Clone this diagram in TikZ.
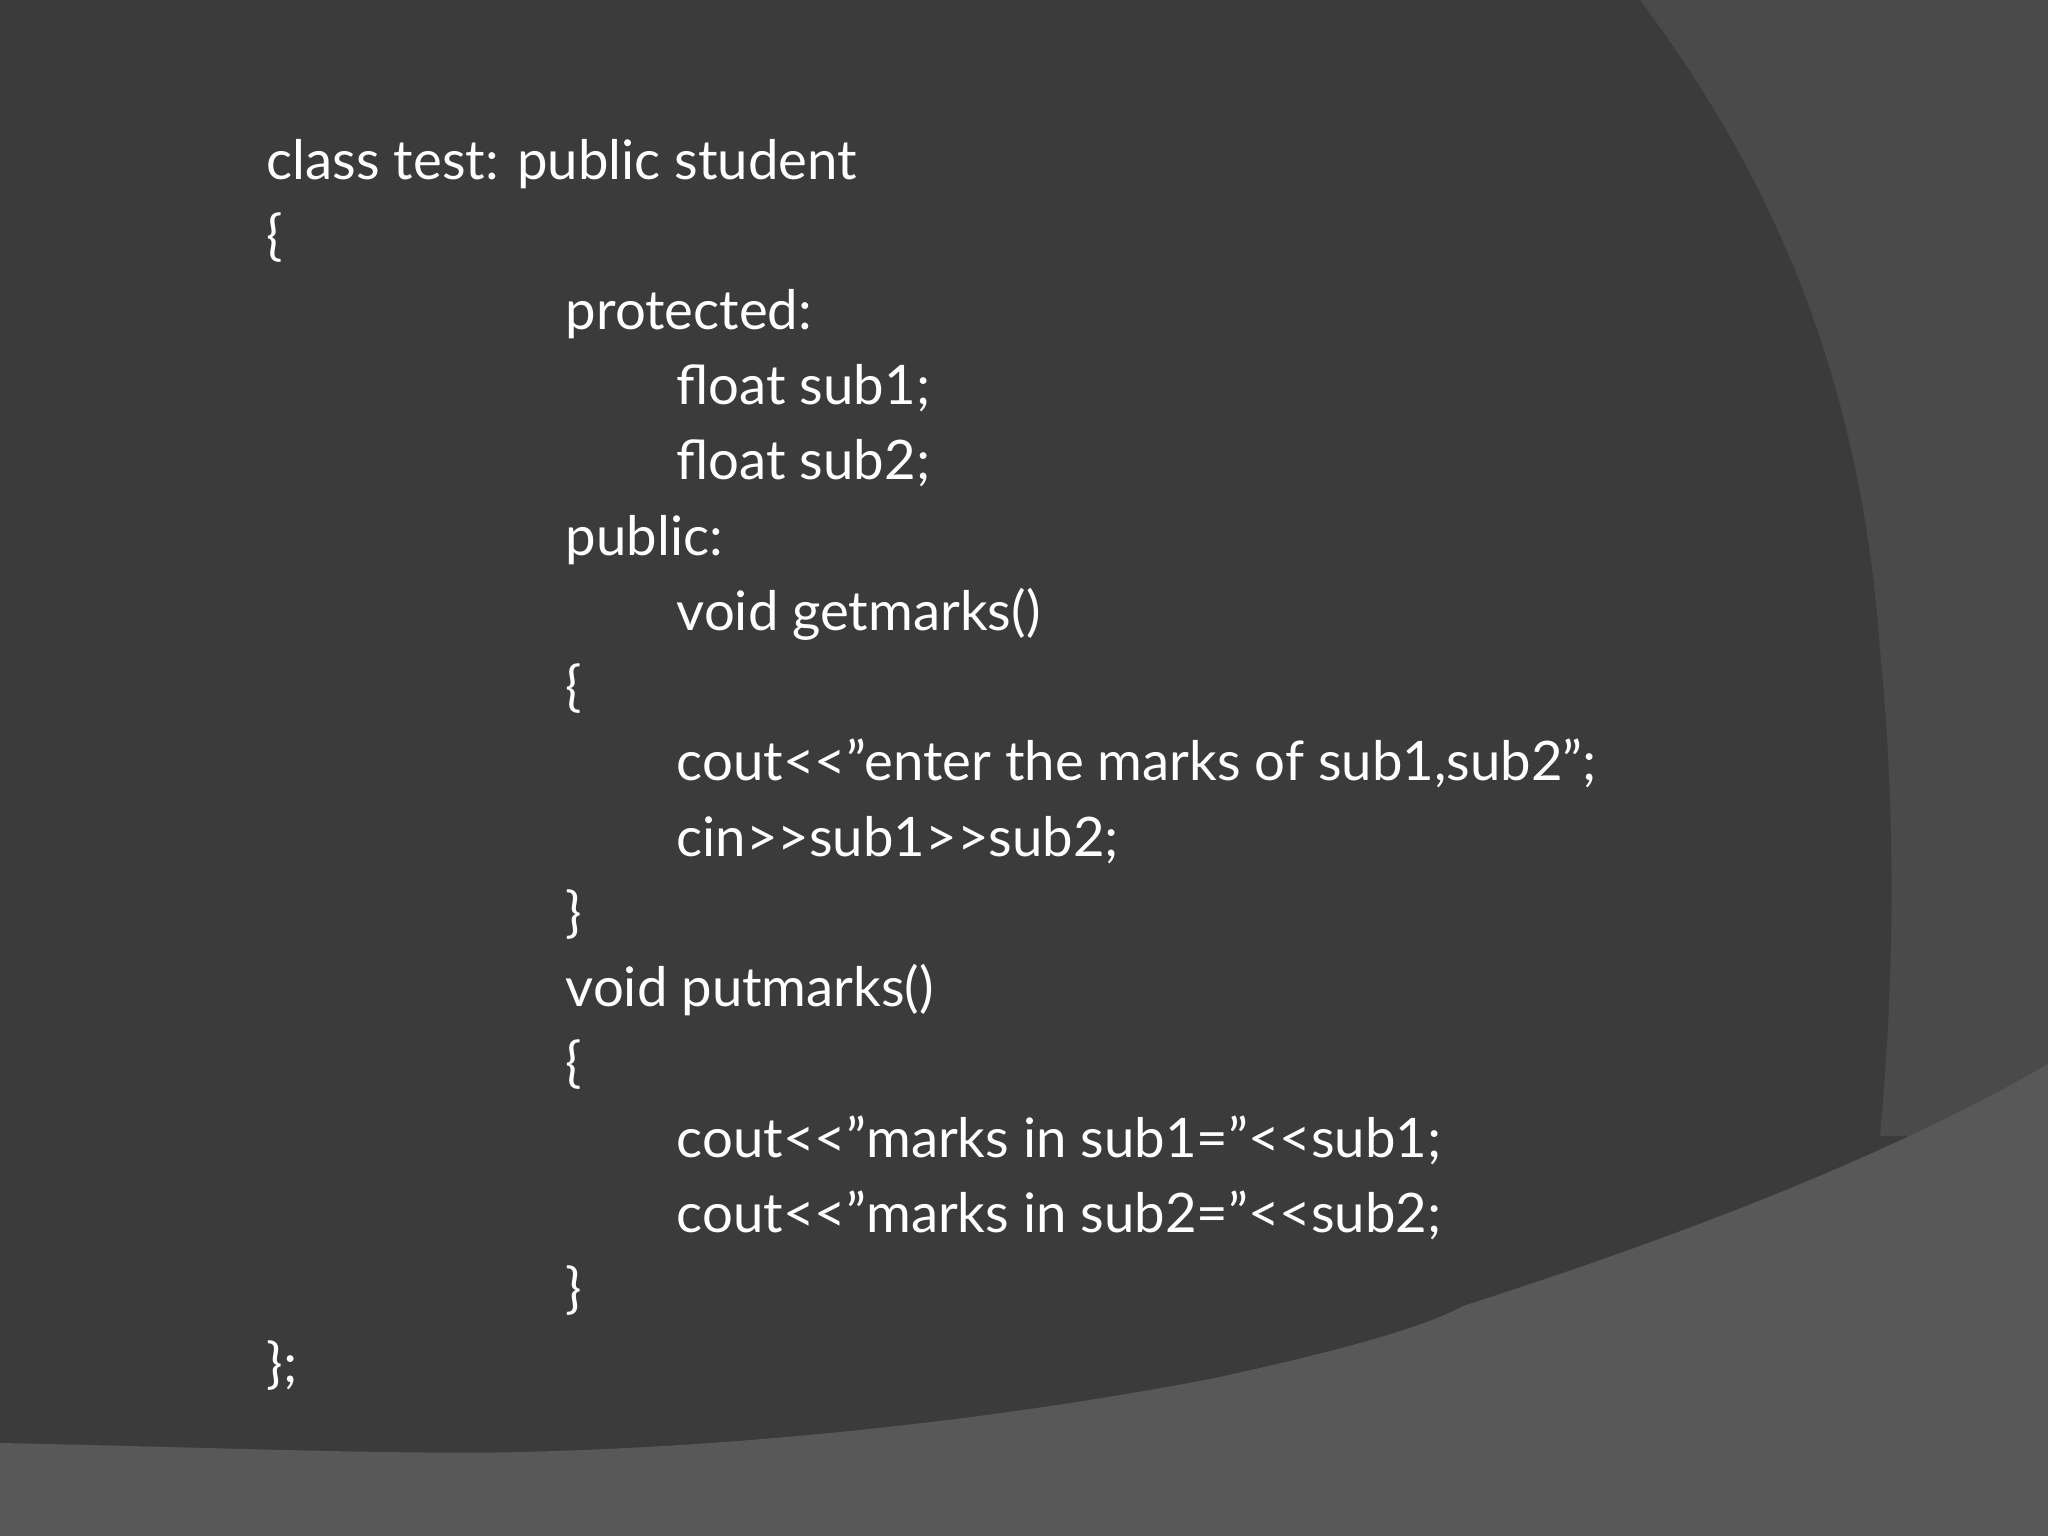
\documentclass[tikz,border=0pt]{standalone}
\usepackage{fontspec}
\setmainfont{Lato}
\definecolor{bgdark}{HTML}{3B3B3B}
\definecolor{bgmid}{HTML}{4A4A4A}
\definecolor{bglight}{HTML}{585858}
\begin{document}
\begin{tikzpicture}[x=1cm,y=-1cm,
  code/.style={anchor=base west,text=white,inner sep=0pt,font=\fontsize{15.5pt}{18pt}\selectfont}]
\useasboundingbox (0,0) rectangle (20.48,15.36);
\fill[bgdark] (0,0) rectangle (20.48,15.36);
\fill[bgmid] (16.40,0) .. controls (17.6,1.6) and (18.6,3.6) .. (18.8,6.5)
  .. controls (19.0,8.5) and (18.9,10.3) .. (18.8,11.36) -- (20.48,11.36) -- (20.48,0) -- cycle;
\fill[bglight] (0,14.43) .. controls (2,14.47) and (4,14.55) .. (5.22,14.52)
  .. controls (8,14.45) and (10.5,14.1) .. (12.15,13.78)
  .. controls (13.2,13.55) and (14.2,13.3) .. (14.63,13.06)
  .. controls (17,12.3) and (19,11.5) .. (20.48,10.64) -- (20.48,15.36) -- (0,15.36) -- cycle;
\def\yy#1{\fpeval{1.80+0.751*#1}}
\node[code] (l0)  at (2.66,1.80) {class test: public student};
\node[code] (l1)  at (2.66,2.55) {\{};
\node[code] (l2)  at (5.65,3.30) {protected:};
\node[code] (l3)  at (6.76,4.05) {float sub1;};
\node[code] (l4)  at (6.76,4.80) {float sub2;};
\node[code] (l5)  at (5.65,5.56) {public:};
\node[code] (l6)  at (6.76,6.31) {void getmarks()};
\node[code] (l7)  at (5.65,7.06) {\{};
\node[code] (l8)  at (6.76,7.81) {cout<{}<"enter the marks of sub1,sub2";};
\node[code] (l9)  at (6.76,8.56) {cin>{}>sub1>{}>sub2;};
\node[code] (l10) at (5.65,9.31) {\}};
\node[code] (l11) at (5.65,10.06) {void putmarks()};
\node[code] (l12) at (5.65,10.81) {\{};
\node[code] (l13) at (6.76,11.57) {cout<{}<"marks in sub1="<{}<sub1;};
\node[code] (l14) at (6.76,12.32) {cout<{}<"marks in sub2="<{}<sub2;};
\node[code] (l15) at (5.65,13.07) {\}};
\node[code] (l16) at (2.66,13.82) {\};};
\end{tikzpicture}
\end{document}
